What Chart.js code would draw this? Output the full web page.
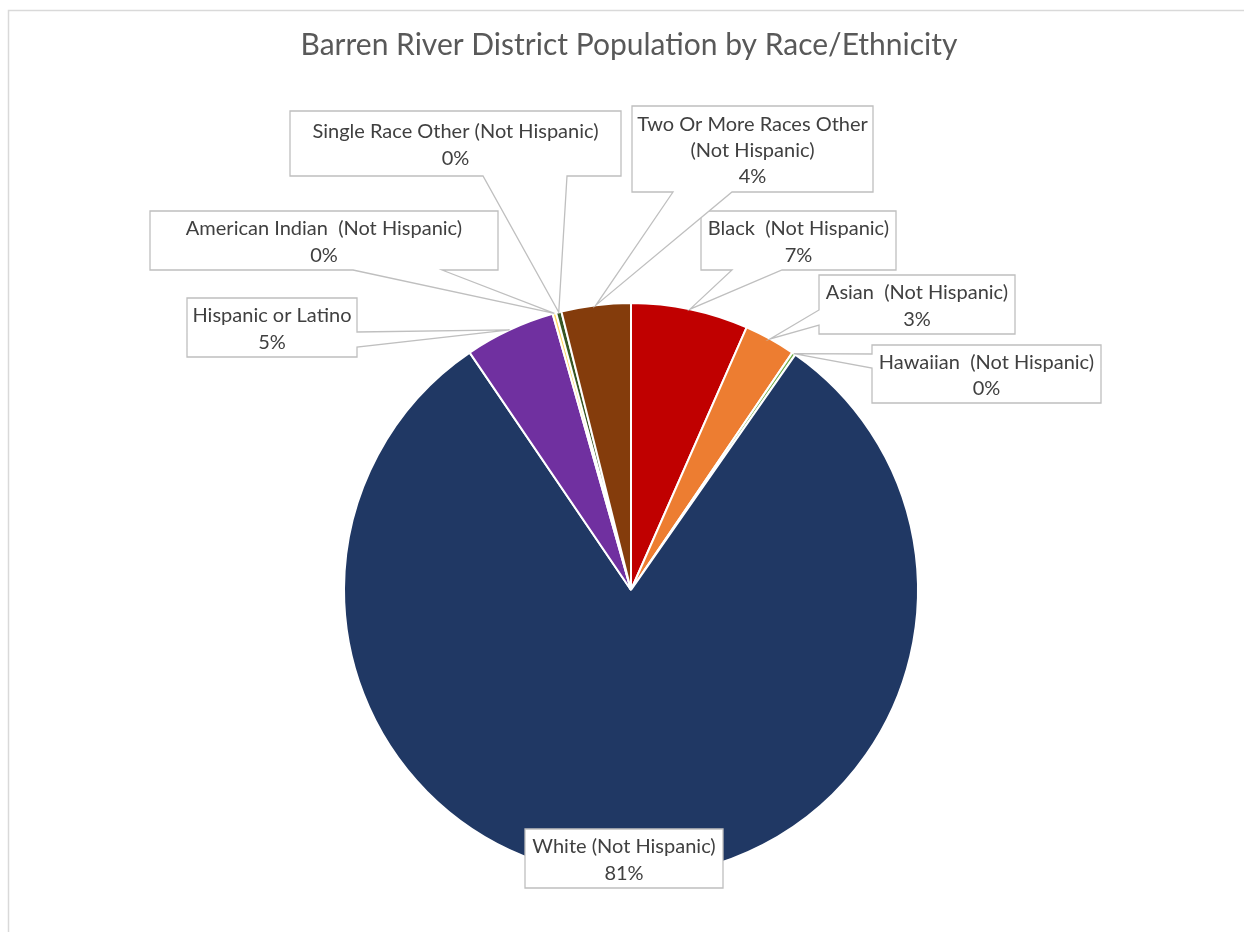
<!DOCTYPE html>
<html>
<head>
<meta charset="utf-8">
<script src="https://cdn.jsdelivr.net/npm/chart.js@4.4.1/dist/chart.umd.min.js"></script>
<style>
  html, body { margin: 0; padding: 0; background: #ffffff; }
  #wrap { position: relative; width: 1244px; height: 932px; }
  canvas { display: block; }
</style>
</head>
<body>
<div id="wrap"><canvas id="c" width="1244" height="932"></canvas></div>
<script>
// ---- data ----
const chartTitle = 'Barren River District Population by Race/Ethnicity';
const categories = [
  'Black  (Not Hispanic)',
  'Asian  (Not Hispanic)',
  'Hawaiian  (Not Hispanic)',
  'White (Not Hispanic)',
  'Hispanic or Latino',
  'American Indian  (Not Hispanic)',
  'Single Race Other (Not Hispanic)',
  'Two Or More Races Other (Not Hispanic)'
];
const shares = [6.6, 2.9, 0.2, 80.8, 5.1, 0.2, 0.3, 3.9];
const sliceColors = ['#C00000', '#ED7D31', '#70AD47', '#203864', '#7030A0', '#FFD966', '#375623', '#843C0C'];

// ---- label callout layout (box rectangles and tail base positions) ----
const calloutBoxes = [
  { x: 701, y: 211, w: 195, h: 59, side: 'bottom', b1: 732, b2: 782 },
  { x: 819, y: 275, w: 196, h: 59, side: 'left', b1: 310, b2: 325 },
  { x: 872, y: 345, w: 229, h: 58, side: 'left', b1: 354, b2: 368 },
  { x: 525, y: 829, w: 198, h: 59, side: 'none' },
  { x: 187, y: 298, w: 170, h: 59, side: 'right', b1: 332, b2: 347 },
  { x: 150, y: 211, w: 348, h: 59, side: 'bottom', b1: 353, b2: 442 },
  { x: 290, y: 111, w: 331, h: 65, side: 'bottom', b1: 483, b2: 567 },
  { x: 632, y: 106, w: 241, h: 86, side: 'bottom', b1: 673, b2: 732 }
];

const LABEL_FONT = '20px Lato, "Open Sans", sans-serif';
const LINE_H = 26.3;

function wrapText(ctx, text, maxW) {
  const words = text.split(' ');
  const lines = [];
  let cur = '';
  for (let i = 0; i < words.length; i++) {
    const test = cur === '' ? words[i] : cur + ' ' + words[i];
    if (ctx.measureText(test).width > maxW && cur !== '') {
      lines.push(cur.trim());
      cur = words[i];
    } else {
      cur = test;
    }
  }
  if (cur !== '') lines.push(cur.trim());
  return lines;
}

const decorPlugin = {
  id: 'decor',
  beforeDraw(chart) {
    const ctx = chart.ctx;
    ctx.save();
    // outer frame (only left and top edges visible)
    ctx.strokeStyle = '#D9D9D9';
    ctx.lineWidth = 1.5;
    ctx.beginPath();
    ctx.moveTo(8.5, 932);
    ctx.lineTo(8.5, 10.5);
    ctx.lineTo(1244, 10.5);
    ctx.stroke();
    // title
    ctx.fillStyle = '#595959';
    ctx.font = '30px Lato, "Open Sans", sans-serif';
    ctx.textAlign = 'center';
    ctx.textBaseline = 'middle';
    ctx.fillText(chartTitle, 629, 45);
    ctx.restore();
  },
  afterDraw(chart) {
    const ctx = chart.ctx;
    const meta = chart.getDatasetMeta(0);
    const total = shares.reduce((a, b) => a + b, 0);
    ctx.save();
    ctx.font = LABEL_FONT;
    meta.data.forEach((arc, i) => {
      const p = arc.getProps(['x', 'y', 'startAngle', 'endAngle', 'outerRadius'], true);
      const mid = (p.startAngle + p.endAngle) / 2;
      const tipX = p.x + Math.cos(mid) * p.outerRadius;
      const tipY = p.y + Math.sin(mid) * p.outerRadius;
      const b = calloutBoxes[i];
      const L = b.x, T = b.y, R = b.x + b.w, B = b.y + b.h;
      ctx.beginPath();
      ctx.moveTo(L, T);
      ctx.lineTo(R, T);
      if (b.side === 'right') {
        ctx.lineTo(R, b.b1);
        ctx.lineTo(tipX, tipY);
        ctx.lineTo(R, b.b2);
      }
      ctx.lineTo(R, B);
      if (b.side === 'bottom') {
        ctx.lineTo(b.b2, B);
        ctx.lineTo(tipX, tipY);
        ctx.lineTo(b.b1, B);
      }
      ctx.lineTo(L, B);
      if (b.side === 'left') {
        ctx.lineTo(L, b.b2);
        ctx.lineTo(tipX, tipY);
        ctx.lineTo(L, b.b1);
      }
      ctx.closePath();
      ctx.fillStyle = '#FFFFFF';
      ctx.fill();
      ctx.strokeStyle = '#BFBFBF';
      ctx.lineWidth = 1.3;
      ctx.lineJoin = 'miter';
      ctx.stroke();

      const pct = Math.round(shares[i] / total * 100) + '%';
      const lines = wrapText(ctx, categories[i], b.w - 8);
      lines.push(pct);
      ctx.fillStyle = '#404040';
      ctx.textAlign = 'center';
      ctx.textBaseline = 'middle';
      const cx = b.x + b.w / 2;
      const cy = b.y + b.h / 2 + 1.5;
      const startY = cy - (lines.length - 1) * LINE_H / 2;
      lines.forEach((ln, k) => ctx.fillText(ln, cx, startY + k * LINE_H));
    });
    ctx.restore();
  }
};

new Chart(document.getElementById('c'), {
  type: 'pie',
  data: {
    labels: categories,
    datasets: [{
      data: shares,
      backgroundColor: sliceColors,
      borderColor: '#FFFFFF',
      borderWidth: 2
    }]
  },
  options: {
    responsive: false,
    animation: false,
    layout: { padding: { left: 343, right: 325, top: 302, bottom: 54 } },
    plugins: {
      legend: { display: false },
      tooltip: { enabled: false },
      title: { display: false }
    }
  },
  plugins: [decorPlugin]
});
</script>
</body>
</html>
